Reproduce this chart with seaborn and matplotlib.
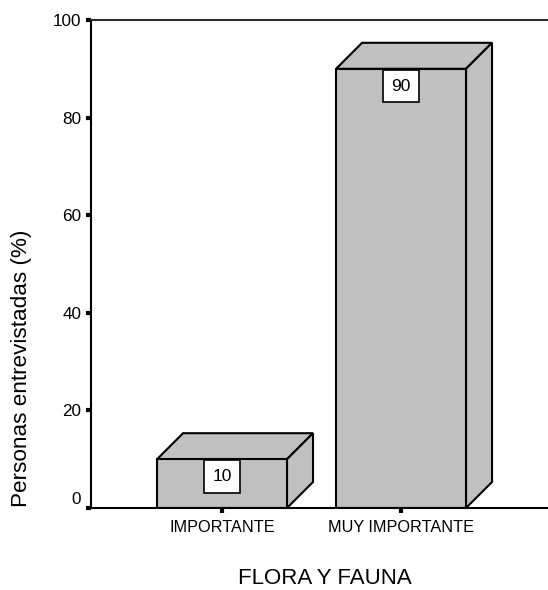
import matplotlib
matplotlib.use("Agg")
import matplotlib.pyplot as plt
import matplotlib.transforms as mtrans
from matplotlib.patches import Polygon
import pandas as pd
import seaborn as sns

categories = ["IMPORTANTE", "MUY IMPORTANTE"]
values = [10, 90]
yticks = [0, 20, 40, 60, 80, 100]

sns.set_style("white")
plt.rcParams["font.family"] = ["Liberation Sans", "DejaVu Sans"]

W, H = 548, 590
fig = plt.figure(figsize=(W / 100, H / 100), dpi=100)
ax = fig.add_axes([91 / W, 1 - 508 / H, (W - 91) / W, (508 - 20) / H])

df = pd.DataFrame({"cat": categories, "val": values})
sns.barplot(data=df, x="cat", y="val", color="#c0c0c0", saturation=1, width=0.726,
            edgecolor="black", linewidth=1.5, ax=ax, zorder=2)

ax.set_xlim(-0.732, 1.821)
ax.set_ylim(0, 100)
ax.set_yticks(yticks)
ax.set_xlabel("FLORA Y FAUNA", fontsize=16, color="black")
ax.set_ylabel("Personas entrevistadas (%)", fontsize=16.2, color="black")
# label positions in axes fractions
ax.xaxis.set_label_coords((325 - 91) / (W - 91), -(578 - 508) / 488, transform=ax.transAxes)
ax.xaxis.label.set_va("center")
ax.yaxis.set_label_coords((22 - 91) / (W - 91), (508 - 368) / 488, transform=ax.transAxes)
ax.yaxis.label.set_va("center")

ax.tick_params(axis="y", labelsize=12.3, length=3.5, width=3, direction="out", left=True,
               pad=3.5, labelcolor="black", color="black")
ax.tick_params(axis="x", labelsize=11.7, length=3.5, width=3, direction="out", bottom=True,
               pad=5, labelcolor="black", color="black")

# the 0 label sits above its tick in the original
zero = ax.get_yticklabels()[0]
zero.set_transform(zero.get_transform() + mtrans.ScaledTranslation(0, 0.10, fig.dpi_scale_trans))

for name in ["left", "top", "bottom"]:
    ax.spines[name].set_visible(True)
    ax.spines[name].set_color("black")
    ax.spines[name].set_linewidth(1.5)
ax.spines["top"].set_color("#2a2a2a")
ax.spines["right"].set_visible(False)

# fake 3d sides, depth is 26 pixels
to_disp = ax.transData.transform
inv = ax.transData.inverted()
dx, dy = inv.transform(to_disp((0, 0)) + 26) - inv.transform(to_disp((0, 0)))
for bar, v in zip(list(ax.patches), values):
    x0, x1 = bar.get_x(), bar.get_x() + bar.get_width()
    top = [(x0, v), (x1, v), (x1 + dx, v + dy), (x0 + dx, v + dy)]
    side = [(x1, 0), (x1 + dx, dy), (x1 + dx, v + dy), (x1, v)]
    for pts in (top, side):
        ax.add_patch(Polygon(pts, closed=True, facecolor="#c0c0c0", edgecolor="black",
                             linewidth=1.5, zorder=1.5, clip_on=False))
    ax.annotate(str(v), xy=((x0 + x1) / 2, v), xytext=(0, -12.5),
                textcoords="offset points", ha="center", va="center", fontsize=12.5, zorder=4,
                color="black",
                bbox=dict(boxstyle="square,pad=0.5", facecolor="white", edgecolor="black", linewidth=1.2))

fig.savefig("out.png", dpi=100)
